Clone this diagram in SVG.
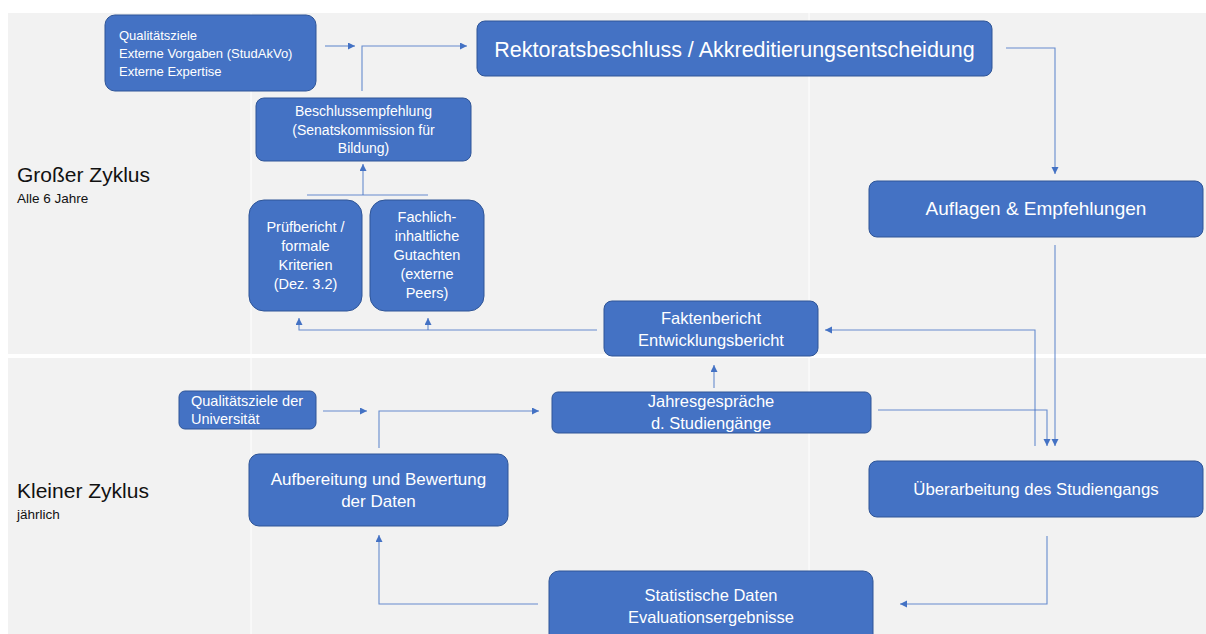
<svg xmlns="http://www.w3.org/2000/svg" width="1206" height="634" viewBox="0 0 1206 634">
  <defs>
    <style>
      .box { fill: #4472c4; stroke: #2f5597; stroke-width: 1; }
      .t { font-family: "Liberation Sans", Arial, sans-serif; fill: #ffffff; }
      .c { text-anchor: middle; }
      .lbl { font-family: "Liberation Sans", Arial, sans-serif; fill: #111111; }
      .conn { fill: none; stroke: #4472c4; stroke-opacity: 0.8; stroke-width: 1.1; }
      .grid { stroke: #ffffff; fill: none; }
    </style>
    <marker id="arrow" markerUnits="userSpaceOnUse" markerWidth="8" markerHeight="8" refX="7" refY="3.5" orient="auto">
      <path d="M0,0 L7,3.5 L0,7 z" fill="#4472c4"/>
    </marker>
  </defs>

  <!-- background panel with two bands -->
  <rect x="0" y="0" width="1206" height="634" fill="#ffffff"/>
  <rect x="8" y="13" width="1198" height="621" fill="#f2f2f2"/>
  <line class="grid" x1="251" y1="13" x2="251" y2="634" stroke-width="1"/>
  <line class="grid" x1="809" y1="13" x2="809" y2="634" stroke-width="1"/>
  <rect x="8" y="354" width="1198" height="4" fill="#ffffff"/>

  <!-- band labels -->
  <g id="label-gross">
    <text class="lbl" x="17" y="182" font-size="21">Großer Zyklus</text>
    <text class="lbl" x="17" y="203" font-size="13.5">Alle 6 Jahre</text>
  </g>
  <g id="label-klein">
    <text class="lbl" x="17" y="498" font-size="21">Kleiner Zyklus</text>
    <text class="lbl" x="17" y="519" font-size="13.5">jährlich</text>
  </g>

  <!-- connectors -->
  <g id="connectors">
    <path class="conn" d="M325,46 H355" marker-end="url(#arrow)"/>
    <path class="conn" d="M362,91 V46 H467" marker-end="url(#arrow)"/>
    <path class="conn" d="M1006,48 H1055 V174" marker-end="url(#arrow)"/>
    <path class="conn" d="M1055,245 V446" marker-end="url(#arrow)"/>
    <path class="conn" d="M878,410 H1047 V446" marker-end="url(#arrow)"/>
    <path class="conn" d="M1035,446 V330 H825" marker-end="url(#arrow)"/>
    <path class="conn" d="M597,330 H299 V318" marker-end="url(#arrow)"/>
    <path class="conn" d="M428,330 V318" marker-end="url(#arrow)"/>
    <path class="conn" d="M307,195 H428"/>
    <path class="conn" d="M363,195 V164" marker-end="url(#arrow)"/>
    <path class="conn" d="M714,388 V365" marker-end="url(#arrow)"/>
    <path class="conn" d="M323,411 H367" marker-end="url(#arrow)"/>
    <path class="conn" d="M379,448 V411 H539" marker-end="url(#arrow)"/>
    <path class="conn" d="M1047,536 V604 H900" marker-end="url(#arrow)"/>
    <path class="conn" d="M538,604 H379 V535" marker-end="url(#arrow)"/>
  </g>

  <!-- nodes -->
  <g id="node-qualitaetsziele">
    <rect class="box" x="105" y="15" width="211" height="76" rx="10"/>
    <text class="t" x="119" y="40" font-size="13">Qualitätsziele</text>
    <text class="t" x="119" y="58" font-size="13">Externe Vorgaben (StudAkVo)</text>
    <text class="t" x="119" y="76" font-size="13">Externe Expertise</text>
  </g>

  <g id="node-rektorat">
    <rect class="box" x="477" y="21" width="515" height="55" rx="8"/>
    <text class="t c" x="734.5" y="57" font-size="21.5">Rektoratsbeschluss / Akkreditierungsentscheidung</text>
  </g>

  <g id="node-beschlussempfehlung">
    <rect class="box" x="256" y="98" width="215" height="63" rx="8"/>
    <text class="t c" x="363.5" y="116" font-size="14">Beschlussempfehlung</text>
    <text class="t c" x="363.5" y="135" font-size="14">(Senatskommission für</text>
    <text class="t c" x="363.5" y="153" font-size="14">Bildung)</text>
  </g>

  <g id="node-pruefbericht">
    <rect class="box" x="249" y="200" width="113" height="111" rx="15"/>
    <text class="t c" x="305.5" y="232" font-size="14.5">Prüfbericht /</text>
    <text class="t c" x="305.5" y="251" font-size="14.5">formale</text>
    <text class="t c" x="305.5" y="270" font-size="14.5">Kriterien</text>
    <text class="t c" x="305.5" y="289" font-size="14.5">(Dez. 3.2)</text>
  </g>

  <g id="node-gutachten">
    <rect class="box" x="370" y="200" width="114" height="111" rx="15"/>
    <text class="t c" x="427" y="222" font-size="14.5">Fachlich-</text>
    <text class="t c" x="427" y="241" font-size="14.5">inhaltliche</text>
    <text class="t c" x="427" y="260" font-size="14.5">Gutachten</text>
    <text class="t c" x="427" y="279" font-size="14.5">(externe</text>
    <text class="t c" x="427" y="298" font-size="14.5">Peers)</text>
  </g>

  <g id="node-auflagen">
    <rect class="box" x="869" y="181" width="334" height="56" rx="8"/>
    <text class="t c" x="1036" y="215" font-size="19">Auflagen &amp; Empfehlungen</text>
  </g>

  <g id="node-faktenbericht">
    <rect class="box" x="604" y="301" width="214" height="55" rx="8"/>
    <text class="t c" x="711" y="324" font-size="16.5">Faktenbericht</text>
    <text class="t c" x="711" y="346" font-size="16.5">Entwicklungsbericht</text>
  </g>

  <g id="node-qualitaetsziele-uni">
    <rect class="box" x="179" y="391" width="137" height="38" rx="6"/>
    <text class="t" x="191" y="406" font-size="14.5">Qualitätsziele der</text>
    <text class="t" x="191" y="424" font-size="14.5">Universität</text>
  </g>

  <g id="node-jahresgespraeche">
    <rect class="box" x="552" y="392" width="319" height="41" rx="6"/>
    <text class="t c" x="711" y="407" font-size="16.5">Jahresgespräche</text>
    <text class="t c" x="711" y="429" font-size="16.5">d. Studiengänge</text>
  </g>

  <g id="node-aufbereitung">
    <rect class="box" x="249" y="454" width="259" height="72" rx="10"/>
    <text class="t c" x="378.5" y="485" font-size="17">Aufbereitung und Bewertung</text>
    <text class="t c" x="378.5" y="507" font-size="17">der Daten</text>
  </g>

  <g id="node-ueberarbeitung">
    <rect class="box" x="869" y="461" width="334" height="56" rx="8"/>
    <text class="t c" x="1036" y="495" font-size="16.8">Überarbeitung des Studiengangs</text>
  </g>

  <g id="node-statistik">
    <rect class="box" x="549" y="571" width="324" height="75" rx="10"/>
    <text class="t c" x="711" y="601" font-size="16.5">Statistische Daten</text>
    <text class="t c" x="711" y="623" font-size="16.5">Evaluationsergebnisse</text>
  </g>
</svg>
